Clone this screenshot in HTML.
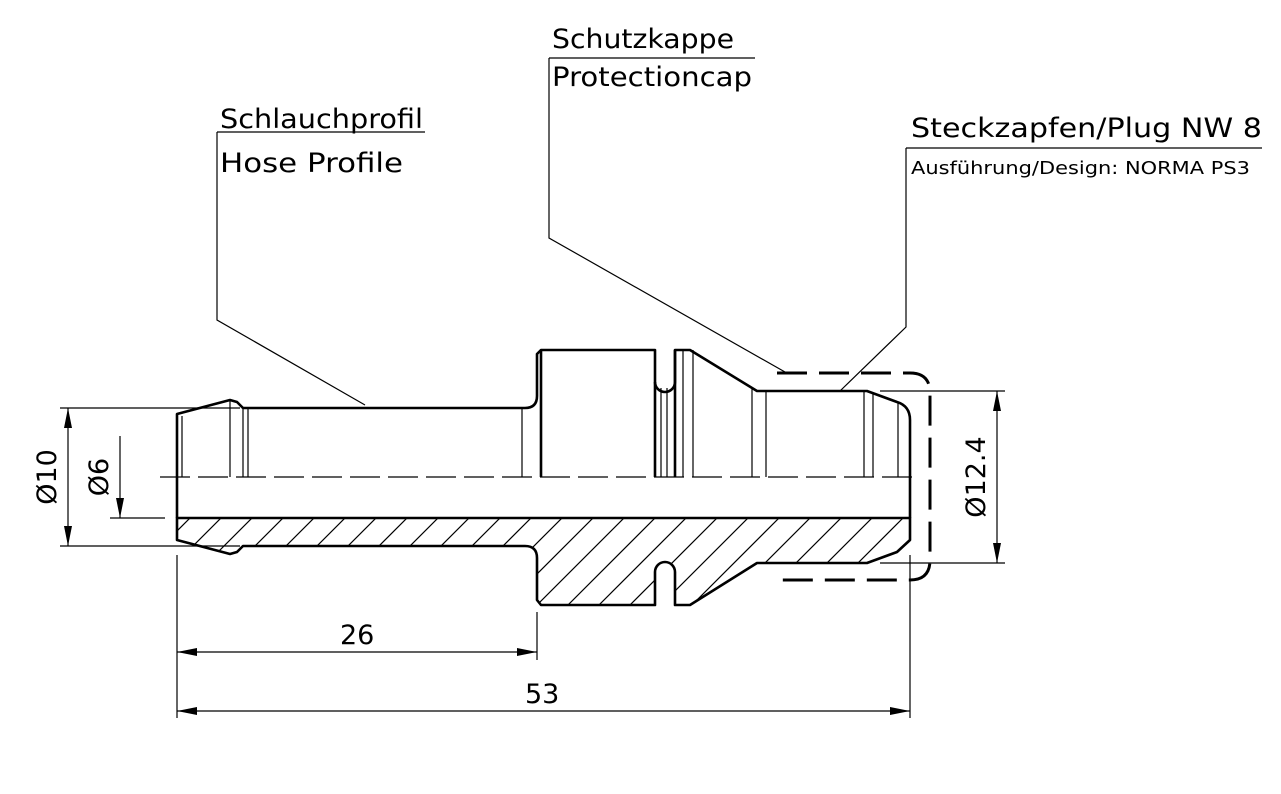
<!DOCTYPE html>
<html><head><style>
html,body{margin:0;padding:0;background:#fff;}
svg{display:block;}
text{font-family:"DejaVu Sans","Liberation Sans",sans-serif;fill:#000;}
</style></head><body>
<svg width="1281" height="794" viewBox="0 0 1281 794" xmlns="http://www.w3.org/2000/svg">
<defs>
<clipPath id="sec"><path d="M177,518 L910,518 L910,540 L897,552 L867,563 L757,563 L690,605 L675,605 L675,572 A10,10 0 0 0 655,572 L655,605 L541,605 L537,600 L537,558 Q537,546 525,546 L243,546 L237,552 L230,554 L177,540 Z"/></clipPath>
<marker id="ar" viewBox="0 0 20 8" refX="20" refY="4" markerWidth="20" markerHeight="8" markerUnits="userSpaceOnUse" orient="auto-start-reverse"><path d="M0,0 L20,4 L0,8 Z" fill="#000"/></marker>
</defs>
<g clip-path="url(#sec)" stroke="#000" stroke-width="1.2">
<path d="M150,620 L300,470 M181,620 L331,470 M212,620 L362,470 M243,620 L393,470 M274,620 L424,470 M305,620 L455,470 M336,620 L486,470 M367,620 L517,470 M398,620 L548,470 M429,620 L579,470 M460,620 L610,470 M491,620 L641,470 M522,620 L672,470 M553,620 L703,470 M584,620 L734,470 M615,620 L765,470 M646,620 L796,470 M677,620 L827,470 M708,620 L858,470 M739,620 L889,470 M770,620 L920,470 M801,620 L951,470 M832,620 L982,470 M863,620 L1013,470 M894,620 L1044,470 M119,620 L269,470 M88,620 L238,470"/>
</g>
<g fill="none" stroke="#000" stroke-width="2.6" stroke-linejoin="round">
<path d="M177,518 L910,518 L910,540 L897,552 L867,563 L757,563 L690,605 L675,605 L675,572 A10,10 0 0 0 655,572 L655,605 L541,605 L537,600 L537,558 Q537,546 525,546 L243,546 L237,552 L230,554 L177,540 Z"/>
<path d="M177,518 L177,414 L230,400 L237,402 L243,408 L525,408 Q537,408 537,396 L537,354 L541,350 L655,350 L655,382 A10,10 0 0 0 675,382 L675,350 L690,350 L757,391 L867,391 L897,402 Q910,406 910,420 L910,518"/>
<path d="M541,350 L541,477 M675,350 L675,477 M655,382 L655,477"/>
</g>
<g stroke="#000" stroke-width="1.2" fill="none">
<path d="M182,416 V477 M230,400 V477 M243,408 V477 M248,408 V477 M522,408 V477 M661,388 V477 M667,388 V477 M683,350 V477 M693,350 V477 M752,388 V477 M766,391 V477 M864,391 V477 M873,393 V477 M898,402 V477"/>
<path d="M160,477 H920" stroke-dasharray="30,8"/>
<path d="M217,132 H425 M217,132 V320 L365,405"/>
<path d="M549,58 H755 M549,58 V238 L785,372"/>
<path d="M906,148 H1262 M906,148 V327 L840,391"/>
<path d="M60,408 H240 M60,546 H240 M110,518 H165 M880,391 H1005 M880,563 H1005"/>
<path d="M177,555 V718 M537,612 V660 M910,555 V718"/>
<path d="M68,408 V546" marker-start="url(#ar)" marker-end="url(#ar)"/>
<path d="M120,436 V518" marker-end="url(#ar)"/>
<path d="M997,391 V563" marker-start="url(#ar)" marker-end="url(#ar)"/>
<path d="M177,652 H537" marker-start="url(#ar)" marker-end="url(#ar)"/>
<path d="M177,711 H910" marker-start="url(#ar)" marker-end="url(#ar)"/>
</g>
<path d="M777,373 H910 Q930,373 930,393 V560 Q930,580 910,580 H777" fill="none" stroke="#000" stroke-width="3" stroke-dasharray="30,12"/>
<g font-size="27">
<text x="220" y="128" textLength="203" lengthAdjust="spacingAndGlyphs">Schlauchprofil</text>
<text x="220" y="172" textLength="183" lengthAdjust="spacingAndGlyphs">Hose Profile</text>
<text x="552" y="48" textLength="182" lengthAdjust="spacingAndGlyphs">Schutzkappe</text>
<text x="552" y="86" textLength="200" lengthAdjust="spacingAndGlyphs">Protectioncap</text>
<text x="911" y="137" textLength="351" lengthAdjust="spacingAndGlyphs">Steckzapfen/Plug NW 8</text>
<text x="340" y="644">26</text>
<text x="525" y="703">53</text>
<text transform="translate(56,477) rotate(-90)" text-anchor="middle">Ø10</text>
<text transform="translate(108,477) rotate(-90)" text-anchor="middle">Ø6</text>
<text transform="translate(985,477) rotate(-90)" text-anchor="middle">Ø12.4</text>
</g>
<text x="911" y="174" font-size="18" textLength="339" lengthAdjust="spacingAndGlyphs">Ausführung/Design: NORMA PS3</text>
</svg>
</body></html>
